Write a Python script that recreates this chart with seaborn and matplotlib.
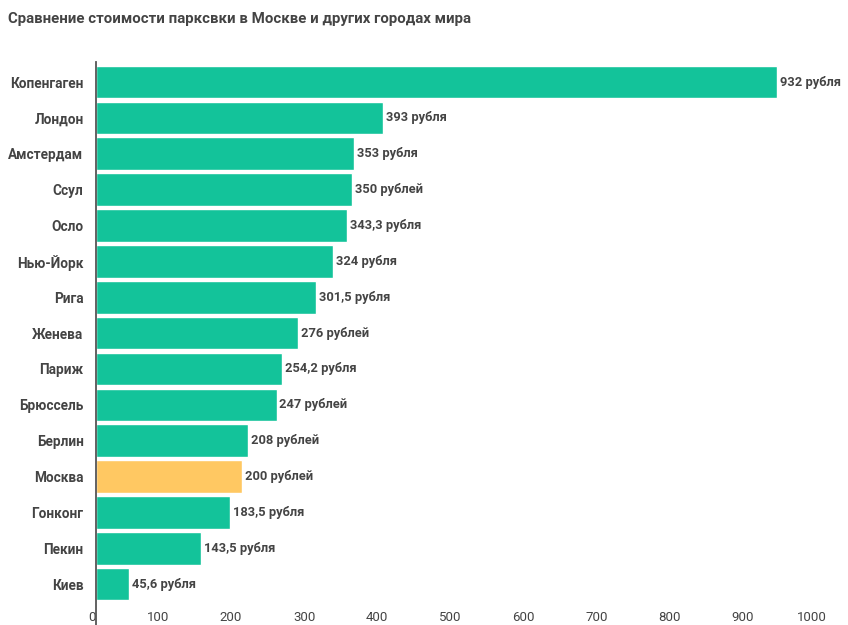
import matplotlib
matplotlib.use("Agg")
import matplotlib.pyplot as plt
import seaborn as sns
import pandas as pd

title = "Сравнение стоимости парксвки в Москве и других городах мира"
cities = ["Копенгаген", "Лондон", "Амстердам", "Ссул", "Осло", "Нью-Йорк", "Рига",
          "Женева", "Париж", "Брюссель", "Берлин", "Москва", "Гонконг", "Пекин", "Киев"]
values = [932, 393, 353, 350, 343.3, 324, 301.5, 276, 254.2, 247, 208, 200, 183.5, 143.5, 45.6]
value_labels = ["932 рубля", "393 рубля", "353 рубля", "350 рублей", "343,3 рубля",
                "324 рубля", "301,5 рубля", "276 рублей", "254,2 рубля", "247 рублей",
                "208 рублей", "200 рублей", "183,5 рубля", "143,5 рубля", "45,6 рубля"]
x_ticks = [0, 100, 200, 300, 400, 500, 600, 700, 800, 900, 1000]
highlight = "Москва"

TEAL = "#13C39A"
GOLD = "#FFC862"
TXT = "#444444"

sns.set_style("white")
plt.rcParams['font.family'] = ['Roboto', 'DejaVu Sans']

df = pd.DataFrame({"city": cities, "value": values})
palette = {c: (GOLD if c == highlight else TEAL) for c in cities}

W, H = 848, 625
fig = plt.figure(figsize=(W / 100, H / 100), dpi=100)
left, right, top, bottom = 96, 827, 62, 625
ax = fig.add_axes([left / W, 1 - bottom / H, (right - left) / W, (bottom - top) / H])

sns.barplot(data=df, x="value", y="city", hue="city", palette=palette, legend=False,
            orient="h", width=0.91, saturation=1, ax=ax)

ax.set_xlim(0, 1000)
ax.set_ylim(15.14, -0.56)
ax.set_xlabel("")
ax.set_ylabel("")
ax.set_xticks(x_ticks)
ax.set_xticklabels([str(t) for t in x_ticks], fontsize=9.5, color=TXT, ha="right")
ax.tick_params(axis="x", length=0, pad=-10)
ax.tick_params(axis="y", length=0, pad=9)
for lab in ax.get_yticklabels():
    lab.set_fontsize(9.8)
    lab.set_fontweight("bold")
    lab.set_color(TXT)

for s in ["top", "right", "bottom"]:
    ax.spines[s].set_visible(False)
ax.spines["left"].set_color("#555555")
ax.spines["left"].set_linewidth(1.3)
ax.grid(False)

for i, (v, lab) in enumerate(zip(values, value_labels)):
    ax.text(v + 4, i, lab, va="center", ha="left", fontsize=9.3, fontweight="bold",
            color=TXT)

fig.text(8 / W, 1 - 19 / H, title, fontsize=10.8, fontweight="bold", color=TXT,
         va="center", ha="left")

fig.savefig("out.png", dpi=100, facecolor="white")
